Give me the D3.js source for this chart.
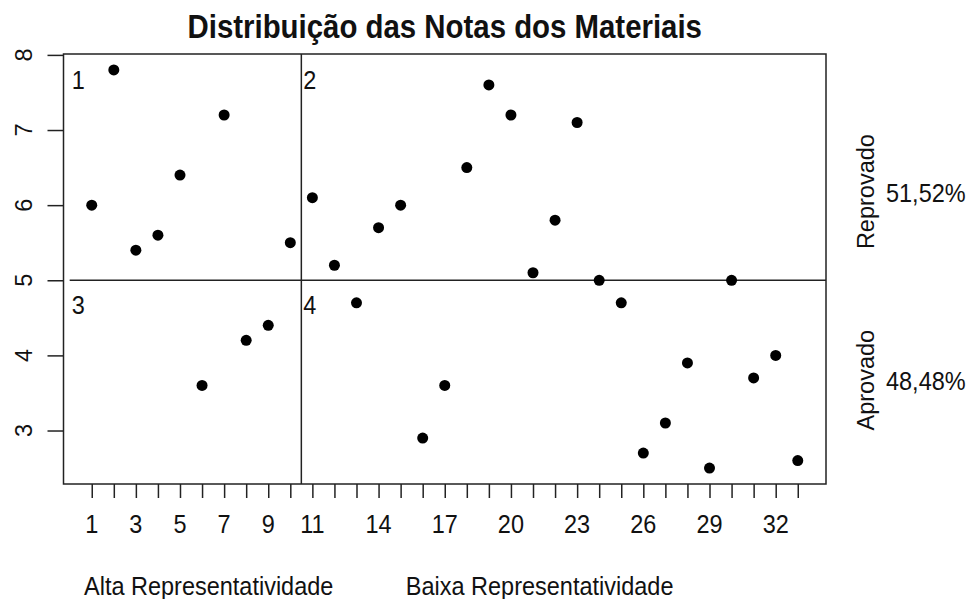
<!DOCTYPE html>
<html lang="pt">
<head>
  <meta charset="UTF-8">
  <title>Distribuição das Notas dos Materiais</title>
  <script src="https://d3js.org/d3.v7.min.js"></script>
  <style>
    body { margin: 0; background: #fff; }
    text { font-family: "Liberation Sans", Arial, sans-serif; fill: #111; }
  </style>
</head>
<body>
<script>
// notas de cada material (índice 1..33)
const materiais = d3.range(1, 34);
const notas = [6.0, 7.8, 5.4, 5.6, 6.4, 3.6, 7.2, 4.2, 4.4, 5.5,
               6.1, 5.2, 4.7, 5.7, 6.0, 2.9, 3.6, 6.5, 7.6, 7.2,
               5.1, 5.8, 7.1, 5.0, 4.7, 2.7, 3.1, 3.9, 2.5, 5.0,
               3.7, 4.0, 2.6];
const xTickLabels = [1, 3, 5, 7, 9, 11, 14, 17, 20, 23, 26, 29, 32];
const yTicks = [3, 4, 5, 6, 7, 8];
const corteX = 10.5;   // divide alta / baixa representatividade
const corteY = 5;      // nota de aprovação
const quadrantes = [
  { label: "1", x: 0, y: 7.55 },
  { label: "2", x: corteX, y: 7.55 },
  { label: "3", x: 0, y: 4.55 },
  { label: "4", x: corteX, y: 4.55 }
];
const grupos = [
  { label: "Reprovado", pct: "51,52%", y: 6.18 },
  { label: "Aprovado", pct: "48,48%", y: 3.67 }
];
const rotulosX = [
  { label: "Alta Representatividade", x: 6.3 },
  { label: "Baixa Representatividade", x: 21.3 }
];

const width = 969, height = 599;
const fs = 23.5;
const sy = 1.1; // o texto do original é um pouco mais alto

const svg = d3.select("body").append("svg")
    .attr("width", width)
    .attr("height", height);

// R style 4% padding
const xExt = d3.extent(materiais), yExt = d3.extent(notas);
const xPad = (xExt[1] - xExt[0]) * 0.04, yPad = (yExt[1] - yExt[0]) * 0.04;

const x = d3.scaleLinear()
    .domain([xExt[0] - xPad, xExt[1] + xPad])
    .range([63.5, 826]);
const y = d3.scaleLinear()
    .domain([yExt[0] - yPad, yExt[1] + yPad])
    .range([484, 54]);

const ink = "#222";
const at = (px, py) => `translate(${px},${py}) scale(1,${sy})`;

// título
svg.append("text")
    .attr("transform", at((x.range()[0] + x.range()[1]) / 2, 38))
    .attr("text-anchor", "middle")
    .attr("font-size", 29.4)
    .attr("font-weight", "bold")
    .text("Distribuição das Notas dos Materiais");

// eixo x: marcas em todos os materiais, rótulos só em alguns
svg.append("g")
    .attr("transform", `translate(0,${y.range()[0]})`)
    .call(d3.axisBottom(x).tickValues(materiais).tickSize(14).tickFormat(""))
    .call(g => g.select(".domain").remove())
    .call(g => g.selectAll("line").attr("stroke", ink).attr("stroke-width", 1.5));

svg.append("g").selectAll("text")
  .data(xTickLabels)
  .join("text")
    .attr("transform", d => at(x(d), 533))
    .attr("text-anchor", "middle")
    .attr("font-size", fs)
    .text(d => d);

// eixo y
svg.append("g")
    .attr("transform", `translate(${x.range()[0]},0)`)
    .call(d3.axisLeft(y).tickValues(yTicks).tickSize(16).tickFormat(""))
    .call(g => g.select(".domain").remove())
    .call(g => g.selectAll("line").attr("stroke", ink).attr("stroke-width", 1.5));

svg.append("g").selectAll("text")
  .data(yTicks)
  .join("text")
    .attr("transform", d => `translate(32,${y(d)}) rotate(-90)`)
    .attr("text-anchor", "middle")
    .attr("font-size", fs)
    .text(d => d);

// caixa do gráfico
svg.append("rect")
    .attr("x", x.range()[0])
    .attr("y", y.range()[1])
    .attr("width", x.range()[1] - x.range()[0])
    .attr("height", y.range()[0] - y.range()[1])
    .attr("fill", "none")
    .attr("stroke", ink)
    .attr("stroke-width", 1.5);

// linhas de corte
svg.append("line")
    .attr("x1", x(0)).attr("x2", x.range()[1])
    .attr("y1", y(corteY)).attr("y2", y(corteY))
    .attr("stroke", ink).attr("stroke-width", 1.5);
svg.append("line")
    .attr("x1", x(corteX)).attr("x2", x(corteX))
    .attr("y1", y.range()[1]).attr("y2", y.range()[0])
    .attr("stroke", ink).attr("stroke-width", 1.5);

// números dos quadrantes
svg.append("g").selectAll("text")
  .data(quadrantes)
  .join("text")
    .attr("transform", d => at(x(d.x) + 2, y(d.y)))
    .attr("font-size", fs)
    .text(d => d.label);

// pontos
svg.append("g").selectAll("circle")
  .data(notas)
  .join("circle")
    .attr("cx", (d, i) => x(materiais[i]))
    .attr("cy", d => y(d))
    .attr("r", 5.5)
    .attr("fill", "#000");

// rótulos à direita
const gr = svg.append("g").selectAll("g")
  .data(grupos)
  .join("g");
gr.append("text")
    .attr("transform", d => `translate(874,${y(d.y)}) rotate(-90)`)
    .attr("text-anchor", "middle")
    .attr("font-size", fs)
    .text(d => d.label);
gr.append("text")
    .attr("transform", d => at(886, y(d.y) + 10))
    .attr("font-size", fs)
    .text(d => d.pct);

// rótulos inferiores
svg.append("g").selectAll("text")
  .data(rotulosX)
  .join("text")
    .attr("transform", d => at(x(d.x), 595))
    .attr("text-anchor", "middle")
    .attr("font-size", fs)
    .text(d => d.label);
</script>
</body>
</html>
